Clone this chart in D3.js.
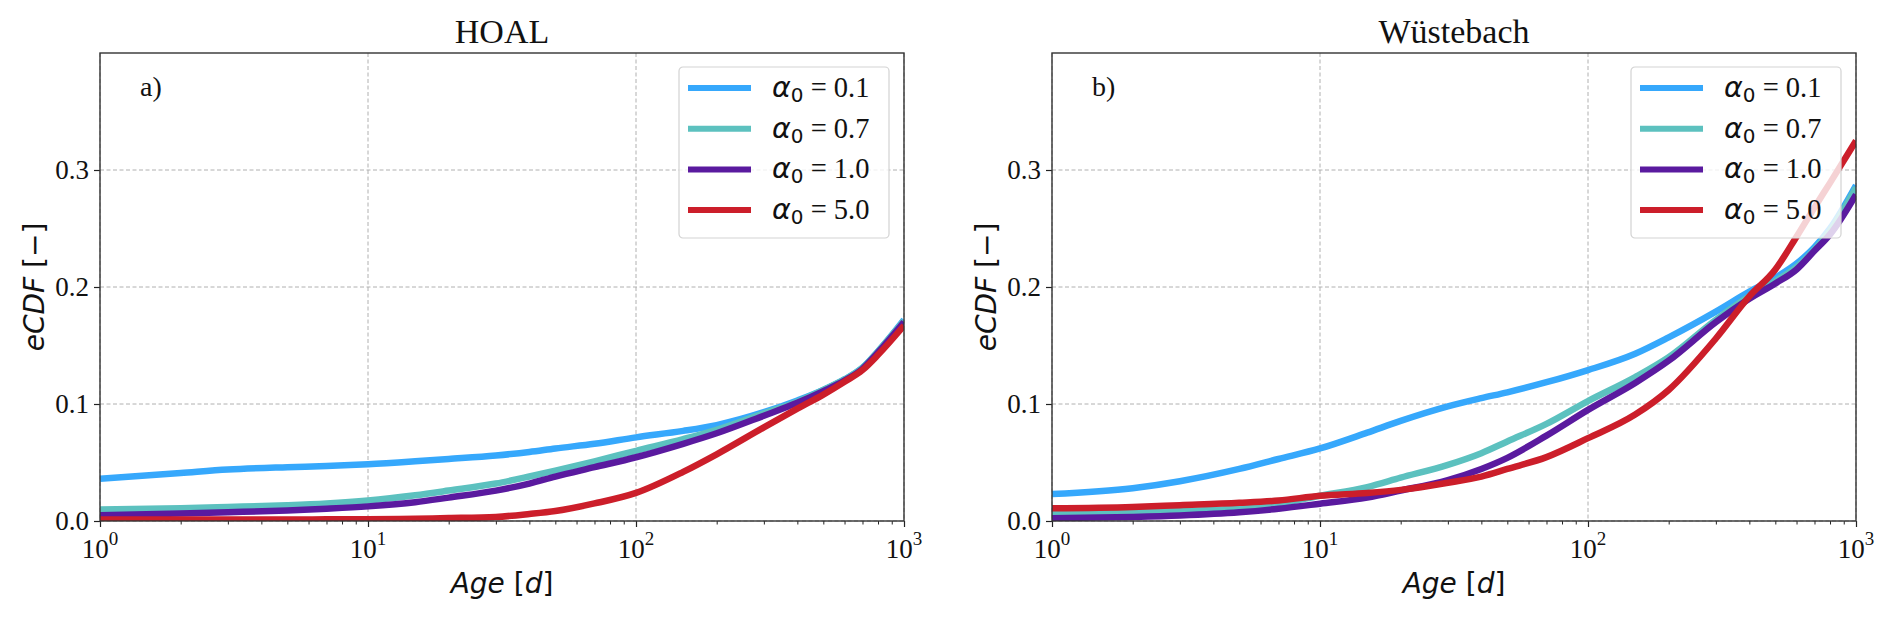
<!DOCTYPE html>
<html>
<head>
<meta charset="utf-8">
<script src="https://cdn.jsdelivr.net/npm/d3@7"></script>
<style>
  html, body { margin: 0; padding: 0; background: #fff; }
  svg { display: block; }
</style>
</head>
<body>
<svg id="chart" width="1892" height="618"></svg>
<script>
// ---------- DATA ----------
const ages = [1, 2, 3, 5, 7, 10, 15, 20, 30, 40, 50, 70, 100, 150, 200, 300, 400, 500, 600, 700, 800, 1000];
const alphaLabels = ["0.1", "0.7", "1.0", "5.0"];
const seriesColors = ["#36a8fc", "#5cc1bf", "#5a1a9f", "#cc1e2a"];
const panelTitles = ["HOAL", "Wüstebach"];
const panelLetters = ["a)", "b)"];
const yTicks = [0.0, 0.1, 0.2, 0.3];
const xTicks = [1, 10, 100, 1000];
const xTickExponents = ["0", "1", "2", "3"];

const hoalA01 = [0.036, 0.041, 0.044, 0.046, 0.047, 0.0485, 0.051, 0.053, 0.056, 0.059, 0.062, 0.066, 0.0715, 0.077, 0.082, 0.093, 0.103, 0.112, 0.121, 0.131, 0.145, 0.172];
const hoalA07 = [0.0098, 0.011, 0.012, 0.0135, 0.015, 0.0175, 0.022, 0.026, 0.032, 0.038, 0.043, 0.051, 0.060, 0.070, 0.078, 0.092, 0.102, 0.112, 0.121, 0.131, 0.145, 0.171];
const hoalA10 = [0.005, 0.0065, 0.0075, 0.009, 0.0105, 0.0125, 0.016, 0.020, 0.026, 0.032, 0.038, 0.046, 0.0545, 0.066, 0.075, 0.090, 0.101, 0.111, 0.120, 0.130, 0.144, 0.170];
const hoalA50 = [0.0013, 0.0013, 0.0013, 0.0013, 0.0014, 0.0015, 0.002, 0.0025, 0.0035, 0.006, 0.0085, 0.015, 0.024, 0.042, 0.057, 0.080, 0.096, 0.108, 0.119, 0.129, 0.142, 0.167];

const wueA01 = [0.023, 0.028, 0.034, 0.0445, 0.053, 0.062, 0.0755, 0.0856, 0.098, 0.105, 0.110, 0.1186, 0.129, 0.143, 0.157, 0.179, 0.196, 0.208, 0.220, 0.234, 0.250, 0.287];
const wueA07 = [0.0064, 0.0075, 0.0085, 0.011, 0.015, 0.0216, 0.029, 0.037, 0.048, 0.058, 0.068, 0.083, 0.1025, 0.123, 0.140, 0.172, 0.192, 0.205, 0.217, 0.232, 0.248, 0.285];
const wueA10 = [0.0024, 0.0035, 0.0047, 0.0074, 0.0105, 0.0148, 0.020, 0.026, 0.035, 0.0445, 0.054, 0.073, 0.095, 0.118, 0.137, 0.170, 0.190, 0.203, 0.215, 0.231, 0.245, 0.279];
const wueA50 = [0.0108, 0.012, 0.0135, 0.0155, 0.0175, 0.0216, 0.024, 0.0266, 0.0327, 0.038, 0.0445, 0.0546, 0.0708, 0.091, 0.112, 0.156, 0.192, 0.215, 0.243, 0.268, 0.289, 0.325];

const panelSeries = [
  [hoalA01, hoalA07, hoalA10, hoalA50],
  [wueA01, wueA07, wueA10, wueA50]
];

// ---------- LAYOUT ----------
const panels = [
  { left: 100, right: 904 },
  { left: 1052, right: 1856 }
];
const plotTop = 53, plotBottom = 521;
const serif = "'Liberation Serif', 'Times New Roman', serif";
const sans = "'DejaVu Sans', sans-serif";

const svg = d3.select("#chart");

panels.forEach((p, pi) => {
  const x = d3.scaleLog().domain([1, 1000]).range([p.left, p.right]);
  const y = d3.scaleLinear().domain([0, 0.4]).range([plotBottom, plotTop]);
  const g = svg.append("g");
  const clipId = "clip" + pi;
  svg.append("clipPath").attr("id", clipId)
    .append("rect").attr("x", p.left).attr("y", plotTop)
    .attr("width", p.right - p.left).attr("height", plotBottom - plotTop);

  // grid
  const grid = g.append("g").attr("stroke", "#b0b0b0").attr("stroke-width", 1).attr("stroke-dasharray", "4,2.5");
  xTicks.forEach(t => {
    grid.append("line").attr("x1", x(t)).attr("x2", x(t)).attr("y1", plotTop).attr("y2", plotBottom);
  });
  yTicks.forEach(t => {
    grid.append("line").attr("x1", p.left).attr("x2", p.right).attr("y1", y(t)).attr("y2", y(t));
  });

  // lines
  const line = d3.line().x((d, i) => x(ages[i])).y(d => y(d)).curve(d3.curveMonotoneX);
  const lg = g.append("g").attr("clip-path", `url(#${clipId})`);
  panelSeries[pi].forEach((s, si) => {
    lg.append("path").datum(s).attr("d", line)
      .attr("fill", "none").attr("stroke", seriesColors[si])
      .attr("stroke-width", 6.5).attr("stroke-linejoin", "round").attr("stroke-linecap", "butt");
  });

  // x axis ticks
  const xAxis = d3.axisBottom(x).tickValues(xTicks).tickSize(6).tickFormat("");
  const xa = g.append("g").attr("transform", `translate(0,${plotBottom})`).call(xAxis);
  xa.select(".domain").remove();
  xa.selectAll("line").attr("stroke", "#222").attr("stroke-width", 1.2);
  const minor = [];
  for (let d = 1; d < 1000; d *= 10) for (let k = 2; k <= 9; k++) minor.push(d * k);
  const xm = g.append("g").attr("transform", `translate(0,${plotBottom})`)
    .call(d3.axisBottom(x).tickValues(minor).tickSize(3.5).tickFormat(""));
  xm.select(".domain").remove();
  xm.selectAll("line").attr("stroke", "#222").attr("stroke-width", 1);

  xTicks.forEach((t, i) => {
    const txt = g.append("text").attr("x", x(t)).attr("y", 558)
      .attr("text-anchor", "middle").attr("font-family", serif).attr("font-size", 27).attr("fill", "#111");
    txt.append("tspan").text("10");
    txt.append("tspan").text(xTickExponents[i]).attr("font-size", 19).attr("dy", -13);
  });

  // y axis ticks
  const yAxis = d3.axisLeft(y).tickValues(yTicks).tickSize(6).tickFormat("");
  const ya = g.append("g").attr("transform", `translate(${p.left},0)`).call(yAxis);
  ya.select(".domain").remove();
  ya.selectAll("line").attr("stroke", "#222").attr("stroke-width", 1.2);
  const fmt = d3.format(".1f");
  yTicks.forEach(t => {
    g.append("text").attr("x", p.left - 11).attr("y", y(t)).attr("dy", "0.34em")
      .attr("text-anchor", "end").attr("font-family", serif).attr("font-size", 27)
      .attr("fill", "#111").text(fmt(t));
  });

  // frame
  g.append("rect").attr("x", p.left).attr("y", plotTop).attr("width", p.right - p.left).attr("height", plotBottom - plotTop)
    .attr("fill", "none").attr("stroke", "#333").attr("stroke-width", 1.4);

  // title
  g.append("text").attr("x", (p.left + p.right) / 2).attr("y", 43).attr("text-anchor", "middle")
    .attr("font-family", serif).attr("font-size", 34).attr("fill", "#111").text(panelTitles[pi]);

  // letter
  g.append("text").attr("x", p.left + 40).attr("y", 96).attr("font-family", serif)
    .attr("font-size", 28).attr("fill", "#111").text(panelLetters[pi]);

  // x label
  const xl = g.append("text").attr("x", (p.left + p.right) / 2).attr("y", 593).attr("text-anchor", "middle")
    .attr("font-family", sans).attr("font-size", 28).attr("fill", "#111");
  xl.append("tspan").attr("font-style", "italic").text("Age");
  xl.append("tspan").text(" [");
  xl.append("tspan").attr("font-style", "italic").text("d");
  xl.append("tspan").text("]");

  // y label
  const yl = g.append("text").attr("transform", `translate(${p.left - 56},${(plotTop + plotBottom) / 2}) rotate(-90)`)
    .attr("text-anchor", "middle").attr("font-family", sans).attr("font-size", 28).attr("fill", "#111");
  yl.append("tspan").attr("font-style", "italic").text("eCDF");
  yl.append("tspan").text(" [\u2212]");

  // legend
  const lgW = 210, lgH = 171;
  const lx = p.right - 15 - lgW, ly = 67;
  const leg = g.append("g").attr("transform", `translate(${lx},${ly})`);
  leg.append("rect").attr("width", lgW).attr("height", lgH).attr("rx", 4)
    .attr("fill", "#fff").attr("fill-opacity", 0.8).attr("stroke", "#d3d3d3").attr("stroke-width", 1.2);
  alphaLabels.forEach((a, i) => {
    const cy = 21 + i * 40.7;
    leg.append("line").attr("x1", 9).attr("x2", 72).attr("y1", cy).attr("y2", cy)
      .attr("stroke", seriesColors[i]).attr("stroke-width", 6);
    const t = leg.append("text").attr("x", 93).attr("y", cy + 9).attr("font-size", 28.5).attr("fill", "#111");
    t.append("tspan").attr("font-family", sans).attr("font-style", "italic").text("α");
    t.append("tspan").attr("font-family", sans).attr("font-size", 20).attr("dy", 5).text("0");
    t.append("tspan").attr("font-family", serif).attr("dy", -5).text(" = " + a);
  });
});
</script>
</body>
</html>
